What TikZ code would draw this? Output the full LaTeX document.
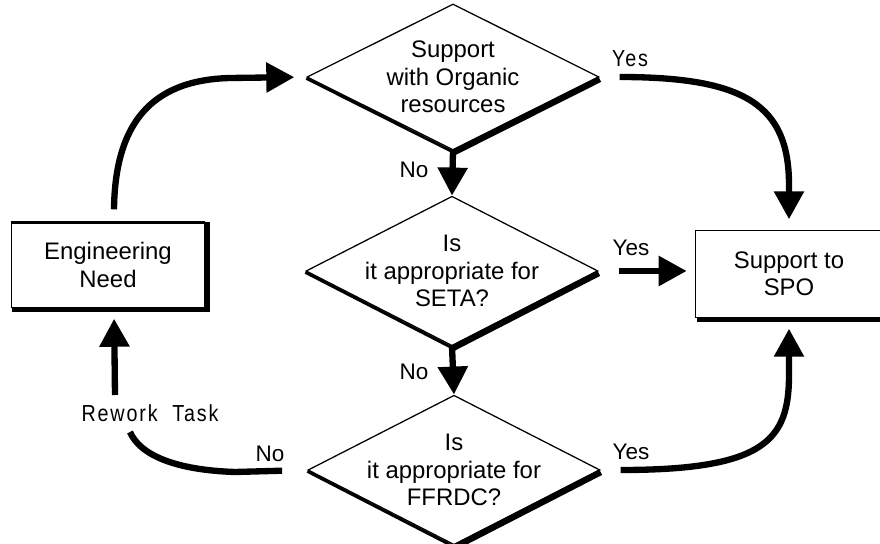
\documentclass[tikz,border=0pt]{standalone}
\usepackage{fontspec}
\setmainfont{Liberation Sans}
\newfontfamily\narrowsans[FakeStretch=0.85,LetterSpace=8]{Liberation Sans}
\usetikzlibrary{arrows.meta,shapes.geometric,positioning}

\begin{document}
\begin{tikzpicture}[x=0.025cm, y=-0.025cm,
  every node/.style={font=\fontsize{17}{19.5}\selectfont},
  decision/.style={diamond, draw, line width=0.9pt, minimum width=7.3cm, minimum height=3.65cm, inner sep=-6mm, align=center},
  stepbox/.style={rectangle, draw, line width=0.7pt, align=center},
  answer/.style={font=\fontsize{16}{18}\selectfont},
  quiet/.style={font=\narrowsans\fontsize{16.5}{18}\selectfont},
  flow/.style={line width=4.5pt, -{Triangle[length=0.7cm, width=0.72cm]}},
  lightedge/.style={line width=2pt},
  heavyedge/.style={line width=4.5pt}]
  \useasboundingbox[fill=white] (0,0) rectangle (880,544);

  % decisions down the middle
  \node[decision] (d1) at (453,77)  {Support\\with Organic\\resources};
  \node[decision] (d2) at (452,271) {Is\\it appropriate for\\SETA?};
  \node[decision] (d3) at (454,470) {Is\\it appropriate for\\FFRDC?};

  % start and end boxes
  \node[stepbox, minimum width=4.825cm, minimum height=2.1cm] (eng) at (108,265) {Engineering\\Need};
  \node[stepbox, minimum width=4.65cm, minimum height=2.15cm] (spo) at (789,274) {Support to\\SPO};

  % drop shadows on the lower edges
  \foreach \n in {d1,d2,d3} {
    \draw[lightedge] ([yshift=-1pt]\n.west) -- ([yshift=-1pt]\n.south);
    \draw[heavyedge] ([yshift=-1.5pt]\n.south) -- ([yshift=-1.5pt]\n.east);
  }
  \draw[line width=2pt] (eng.north west) -- (eng.north east);
  \foreach \n in {eng,spo}
    \draw[line width=3.5pt] ([shift={(1pt,-1.5pt)}]\n.south west) -- ([shift={(1.5pt,-1.5pt)}]\n.south east) -- ([shift={(1.5pt,0pt)}]\n.north east);

  % answers
  \node[answer] (no1)  at (414,170) {No};
  \node[answer] (no2)  at (414,372) {No};
  \node[quiet]  (yes1) at (630,59)  {Yes};
  \node[answer] (yes2) at (631,248) {Yes};
  \node[answer] (yes3) at (631,452) {Yes};
  \node[answer] (no3)  at (270,454) {No};
  \node[quiet]  (rework) at (150,413) {Rework\ \ Task};

  \coordinate (reworkin) at (130,432);
  \coordinate (reworkout) at (115,395);

  % connectors
  \draw[flow] (d1.south) -- (d2.north);
  \draw[flow] (d2.south) -- (d3.north);
  \draw[flow, shorten <=0.5cm, shorten >=0.22cm] (d2.east) -- (d2.east -| spo.west);
  \draw[flow, shorten <=0.5cm, shorten >=0.28cm] (d1.east) .. controls (745,77) and (789,105) .. (789,185) -- (spo.north);
  \draw[flow, shorten <=0.5cm, shorten >=0.28cm] (d3.east) .. controls (765,470) and (789,440) .. (789,375) -- (spo.south);
  \draw[flow, shorten >=0.3cm] ([shift={(0.15cm,0.33cm)}]eng.north) .. controls (115,125) and (150,80) .. (230,78) -- (d1.west);
  \draw[line width=4.5pt, shorten <=0.63cm] (d3.west) -- (235,472) .. controls (175,470) and (140,455) .. (reworkin);
  \draw[flow, shorten >=0.28cm] (reworkout) -- ([xshift=0.15cm]eng.south);
\end{tikzpicture}
\end{document}
